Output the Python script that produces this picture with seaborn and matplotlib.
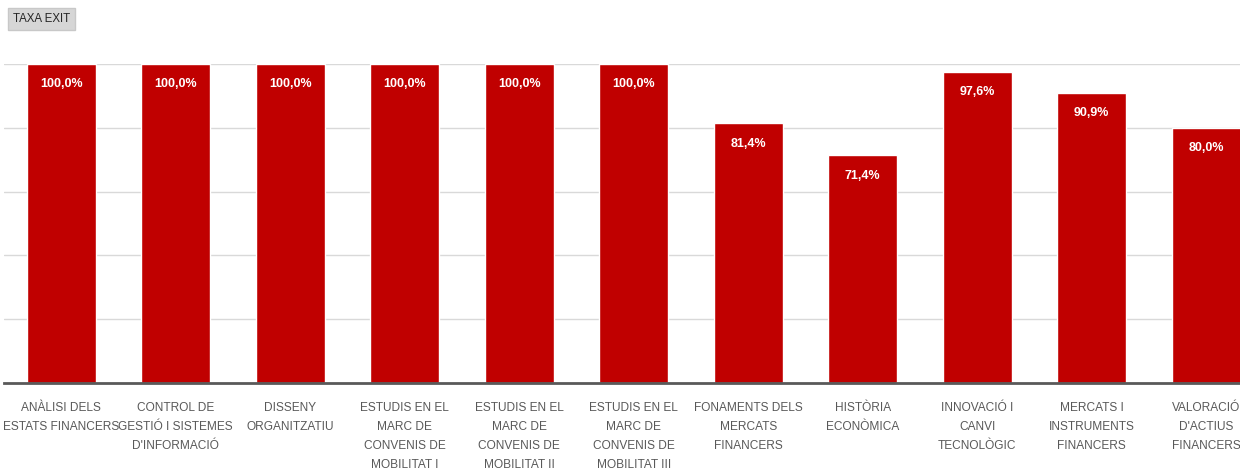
import seaborn as sns
import matplotlib.pyplot as plt
from matplotlib import font_manager

# Course names (wrapped as in the original) and success rates
courses = [
    "ANÀLISI DELS\nESTATS FINANCERS",
    "CONTROL DE\nGESTIÓ I SISTEMES\nD'INFORMACIÓ",
    "DISSENY\nORGANITZATIU",
    "ESTUDIS EN EL\nMARC DE\nCONVENIS DE\nMOBILITAT I",
    "ESTUDIS EN EL\nMARC DE\nCONVENIS DE\nMOBILITAT II",
    "ESTUDIS EN EL\nMARC DE\nCONVENIS DE\nMOBILITAT III",
    "FONAMENTS DELS\nMERCATS\nFINANCERS",
    "HISTÒRIA\nECONÒMICA",
    "INNOVACIÓ I\nCANVI\nTECNOLÒGIC",
    "MERCATS I\nINSTRUMENTS\nFINANCERS",
    "VALORACIÓ\nD'ACTIUS\nFINANCERS",
]
exit_rate = [100.0, 100.0, 100.0, 100.0, 100.0, 100.0, 81.4, 71.4, 97.6, 90.9, 80.0]
button_text = "TAXA EXIT"

sns.set_style("white")

# pick a narrow face if one is around (original uses Calibri)
installed = {f.name for f in font_manager.fontManager.ttflist}
if 'Liberation Sans Narrow' in installed:
    family, tick_size = 'Liberation Sans Narrow', 10.5
elif 'DejaVu Sans Condensed' in installed:
    family, tick_size = 'DejaVu Sans Condensed', 9
else:
    family, tick_size = 'Liberation Sans', 8.6
plt.rcParams['font.family'] = [family, 'DejaVu Sans']

fig = plt.figure(figsize=(12.4, 4.73), dpi=100)
# axes deliberately run past the right edge (the original screenshot is cropped)
ax = fig.add_axes([4 / 1240, 90 / 473, 11 * 114.5 / 1240, 319 / 473])

sns.barplot(x=list(range(len(courses))), y=exit_rate, color='#c00000',
            saturation=1, width=0.6, ax=ax)

ax.set_xlim(-0.5, len(courses) - 0.5)
ax.set_ylim(0, 100)
ax.set_yticks([20, 40, 60, 80, 100])
ax.set_yticklabels([])
ax.tick_params(axis='y', length=0)
ax.yaxis.grid(True, color='#d9d9d9', linewidth=1)
ax.set_axisbelow(True)

ax.set_xticks(range(len(courses)))
ax.set_xticklabels(courses, color='#595959', fontsize=tick_size, linespacing=1.75)
ax.tick_params(axis='x', length=0, pad=14)
ax.set_xlabel('')
ax.set_ylabel('')

for s in ['top', 'left', 'right']:
    ax.spines[s].set_visible(False)
ax.spines['bottom'].set_color('#595959')
ax.spines['bottom'].set_linewidth(2)

labels = [f"{v:.1f}%".replace('.', ',') for v in exit_rate]
ax.bar_label(ax.containers[0], labels=labels, padding=-19, color='white',
             fontweight='bold', fontsize=9)

fig.text(13 / 1240, 1 - 19 / 473, button_text, fontsize=8.3, color='#262626',
         va='center', ha='left',
         bbox=dict(boxstyle='square,pad=0.45', facecolor='#d6d6d6', edgecolor='#c8c8c8'))

fig.savefig('out.png', dpi=100)
